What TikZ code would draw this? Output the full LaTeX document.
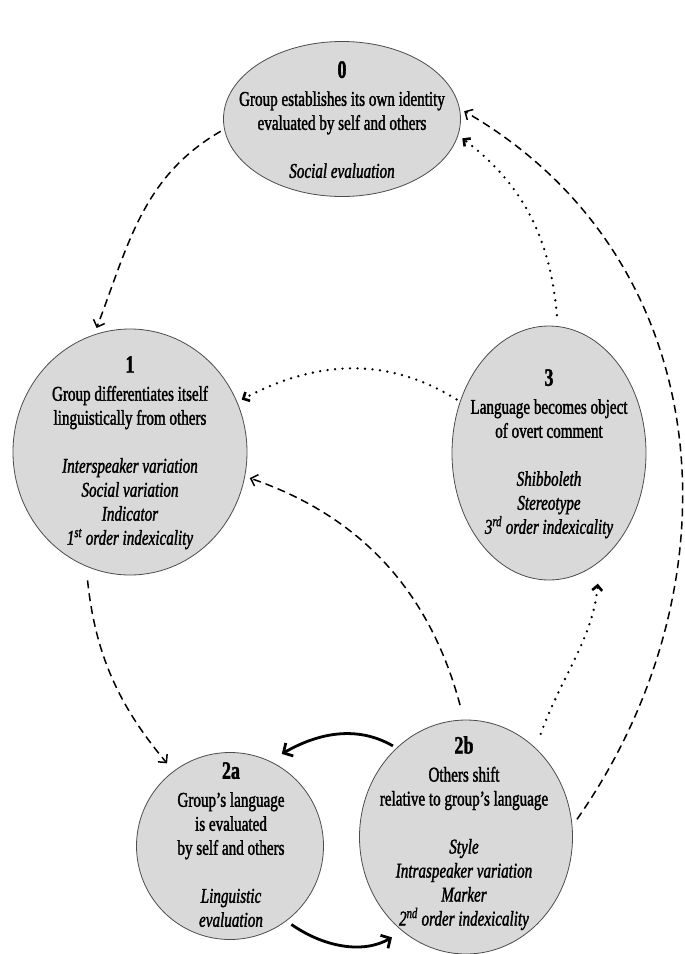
\documentclass[tikz,border=0pt]{standalone}
\usepackage{fontspec}
\setmainfont{Liberation Serif}[FakeStretch=0.72, FakeBold=1.5]
\usetikzlibrary{shapes.geometric, arrows.meta, positioning}

\newcommand{\stagenum}[1]{{\fontsize{25}{25}\selectfont\bfseries #1}}

\begin{document}
\begin{tikzpicture}[x=1pt, y=-1pt,
stage/.style={ellipse, draw=black!70, fill=black!15, line width=0.8pt, inner sep=0pt},
stagetext/.style={align=center, inner sep=0pt, anchor=north, font=\fontsize{21}{24}\selectfont},
dasharrow/.style={-{Straight Barb[length=6pt, width=12pt]}, line width=1.5pt, dash pattern=on 8pt off 5pt},
dotarrow/.style={-{Straight Barb[length=5pt, width=10pt]}, line width=2.6pt, dash pattern=on 0pt off 7.5pt, line cap=round},
fullarrow/.style={-{Straight Barb[length=7pt, width=15pt]}, line width=2.8pt},
]

\useasboundingbox (0,0) rectangle (685,954);

% stages
\node[stage, minimum width=237pt, minimum height=155pt] (s0)  at (342,119) {};
\node[stage, minimum width=234pt, minimum height=246pt] (s1)  at (130,452) {};
\node[stage, minimum width=194pt, minimum height=254pt] (s3)  at (549,453) {};
\node[stage, minimum width=187pt, minimum height=187pt] (s2a) at (230,846) {};
\node[stage, minimum width=213pt, minimum height=234pt] (s2b) at (466,837) {};

\node[stagetext] (t0) at (342,61) {\stagenum{0}\\[4pt]
  Group establishes its own identity\\ evaluated by self and others\\[24pt]
  \textit{Social evaluation}};
\node[stagetext] (t1) at (130,356) {\stagenum{1}\\[4pt]
  Group differentiates itself\\ linguistically from others\\[24pt]
  \textit{Interspeaker variation}\\ \textit{Social variation}\\ \textit{Indicator}\\
  \textit{1\textsuperscript{st} order indexicality}};
\node[stagetext] (t3) at (549,369) {\stagenum{3}\\[4pt]
  Language becomes object\\ of overt comment\\[24pt]
  \textit{Shibboleth}\\ \textit{Stereotype}\\
  \textit{3\textsuperscript{rd} order indexicality}};
\node[stagetext] (t2a) at (231,762) {\stagenum{2a}\\[4pt]
  Group’s language\\ is evaluated\\ by self and others\\[24pt]
  \textit{Linguistic}\\ \textit{evaluation}};
\node[stagetext] (t2b) at (464,736) {\stagenum{2b}\\[4pt]
  Others shift\\ relative to group’s language\\[24pt]
  \textit{Style}\\ \textit{Intraspeaker variation}\\ \textit{Marker}\\
  \textit{2\textsuperscript{nd} order indexicality}};

% dashed cycle
\draw[dasharrow, shorten <=4pt, shorten >=7pt] (s0.185) to[out=210, in=69] (s1.107);
\draw[dasharrow, shorten <=14pt, shorten >=10pt] (s1.249) to[out=-84, in=130] (s2a.127);
\draw[dasharrow, shorten <=15pt, shorten >=5pt] (s2b.91) to[out=105, in=-19] (s1.-12);
\draw[dasharrow, shorten <=8pt, shorten >=5pt] (s2b.6) to[out=55, in=-30, looseness=1.05] (s0.5);

% dotted links through stage 3
\draw[dotarrow, shorten <=15pt, shorten >=22pt] (s2b.52) to[out=70, in=-95] (s3.-65);
\draw[dotarrow, shorten <=4pt, shorten >=5pt] (s3.150) to[out=148, in=28] (s1.25);
\draw[dotarrow, shorten <=11pt, shorten >=5pt] (s3.86) to[out=95, in=-37] (s0.-8);

% 2a <-> 2b
\draw[fullarrow, shorten <=4pt, shorten >=14pt] (s2b.128) to[out=150, in=30] (s2a.65);
\draw[fullarrow, shorten <=6pt, shorten >=12pt] (s2a.-53) to[out=-35, in=-150] (s2b.236);

\end{tikzpicture}
\end{document}
